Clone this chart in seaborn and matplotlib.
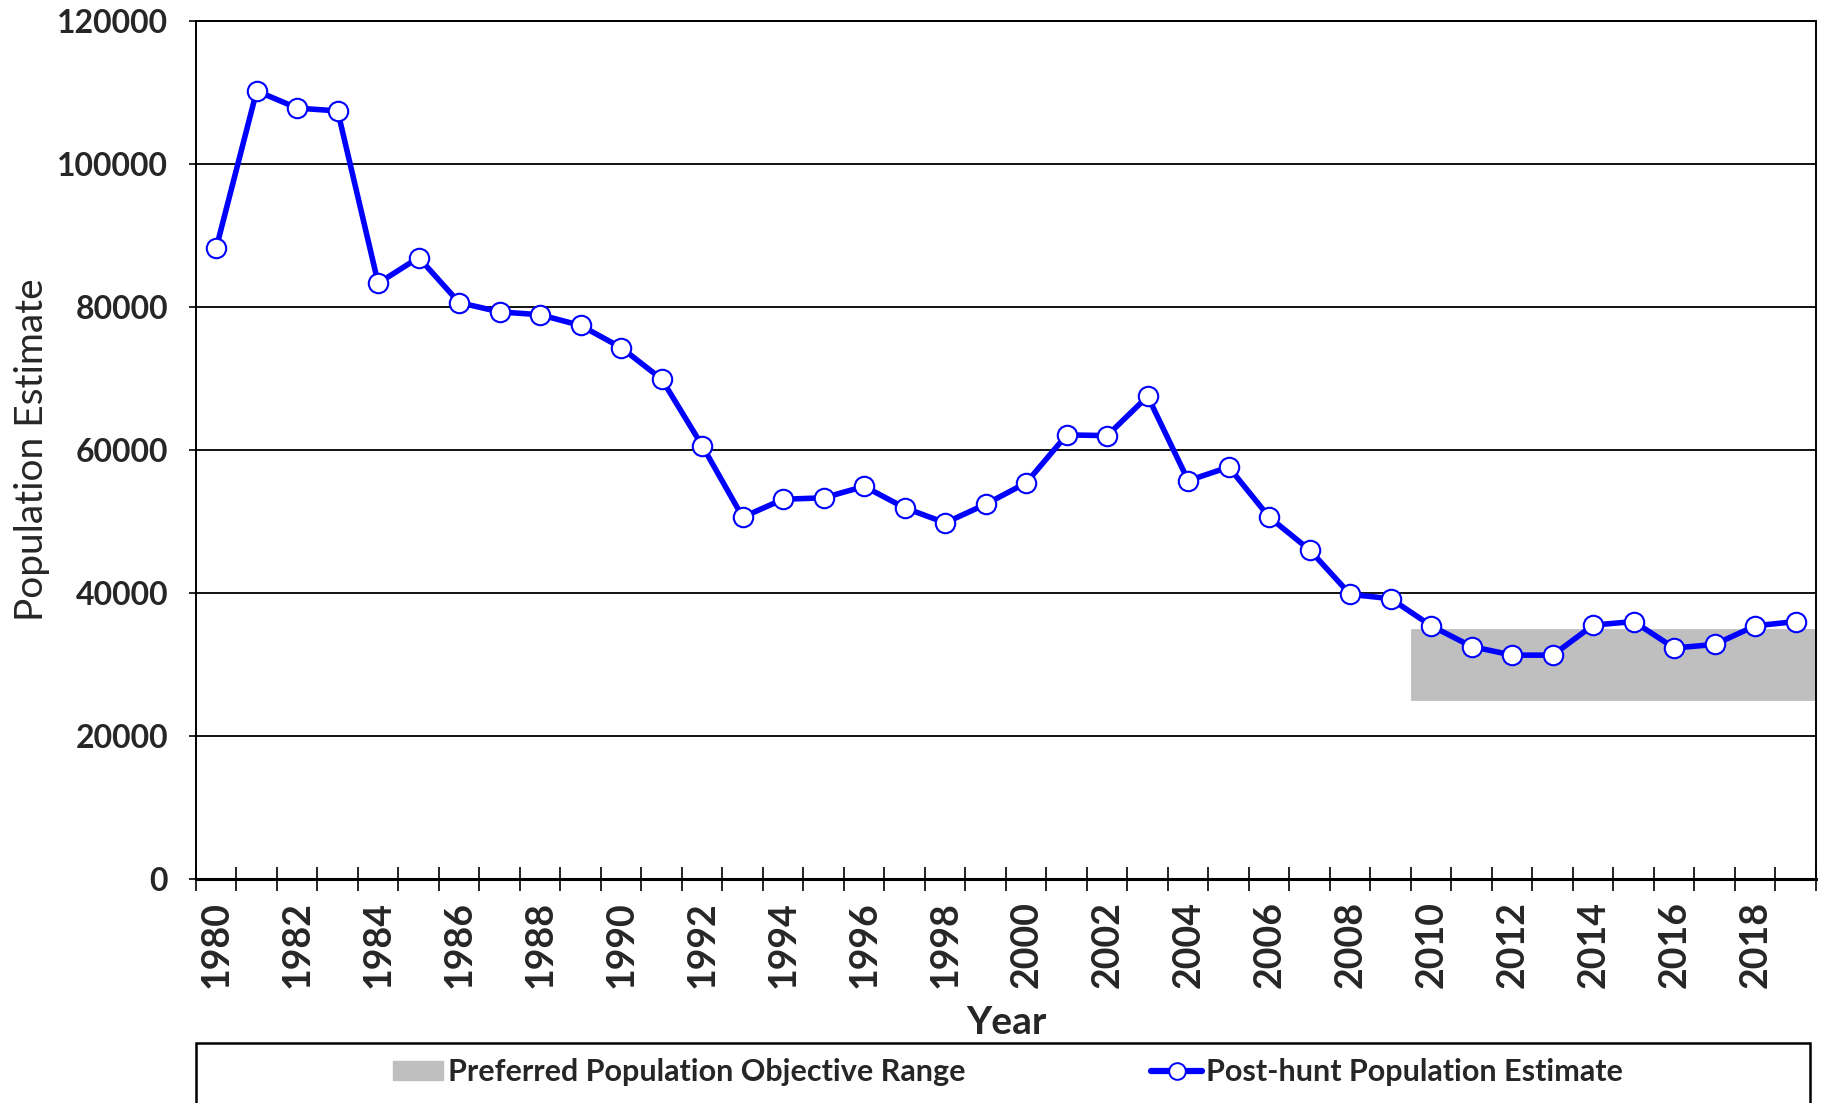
"""
Post-hunt population estimate vs. the preferred objective range.
"""

import matplotlib.pyplot as plt
import seaborn as sns
from matplotlib.lines import Line2D
from matplotlib.patches import Patch, Rectangle
from matplotlib.ticker import FixedLocator, MultipleLocator

YEARS = list(range(1980, 2020))
POPULATION = [
    88200, 110200, 107800, 107400, 83300, 86900, 80600, 79300, 78900, 77400,
    74300, 69900, 60600, 50600, 53100, 53300, 54900, 51900, 49800, 52400,
    55400, 62100, 62000, 67500, 55700, 57600, 50600, 46000, 39800, 39200,
    35400, 32500, 31300, 31300, 35500, 36000, 32300, 32800, 35400, 36000,
]

OBJECTIVE_YEARS = list(range(2010, 2020))
OBJECTIVE_LOW = 25000
OBJECTIVE_HIGH = 35000

Y_TICKS = [0, 20000, 40000, 60000, 80000, 100000, 120000]
X_LABEL_YEARS = list(range(1980, 2019, 2))

LINE_COLOR = "#0000ff"
BAND_COLOR = "#bfbfbf"


def plot_population(output_path: str = "out.png") -> None:
    sns.set_theme(style="white")
    plt.rcParams["font.family"] = ["Lato", "DejaVu Sans"]
    plt.rcParams["font.weight"] = "bold"

    fig = plt.figure(figsize=(18.31, 11.03), dpi=100)
    ax = fig.add_axes([0.107, 0.2031, 0.8848, 0.778])

    # objective range drawn as touching bars, one per year
    ax.bar(
        OBJECTIVE_YEARS,
        [OBJECTIVE_HIGH - OBJECTIVE_LOW] * len(OBJECTIVE_YEARS),
        bottom=OBJECTIVE_LOW,
        width=1.0,
        color=BAND_COLOR,
        edgecolor=BAND_COLOR,
        linewidth=0.6,
        zorder=2,
    )

    sns.lineplot(
        x=YEARS,
        y=POPULATION,
        ax=ax,
        color=LINE_COLOR,
        linewidth=4.0,
        marker="o",
        markersize=14,
        markerfacecolor="white",
        markeredgecolor=LINE_COLOR,
        markeredgewidth=1.5,
        zorder=4,
    )

    ax.set_xlim(YEARS[0] - 0.5, YEARS[-1] + 0.5)
    ax.set_ylim(Y_TICKS[0], Y_TICKS[-1])
    ax.set_yticks(Y_TICKS)
    ax.set_yticklabels([str(v) for v in Y_TICKS], fontsize=23, fontweight="bold")
    ax.tick_params(axis="y", direction="out", length=5, width=1.2, color="black", pad=15, left=True)

    # year labels sit in the middle of each category, ticks on the boundaries
    ax.xaxis.set_major_locator(FixedLocator(X_LABEL_YEARS))
    ax.set_xticklabels([str(y) for y in X_LABEL_YEARS], rotation=90, fontsize=27, fontweight="bold")
    ax.tick_params(axis="x", which="major", length=0, pad=16)
    ax.xaxis.set_minor_locator(MultipleLocator(1, offset=0.5))
    ax.tick_params(axis="x", which="minor", direction="inout", length=17, width=1.2,
                   color="black", bottom=True)

    ax.yaxis.grid(True, color="black", linewidth=1.3)
    ax.xaxis.grid(False)
    ax.set_axisbelow(True)

    for side in ["left", "right", "top"]:
        ax.spines[side].set_color("black")
        ax.spines[side].set_linewidth(1.4)
    ax.spines["bottom"].set_color("black")
    ax.spines["bottom"].set_linewidth(2.2)

    ax.set_xlabel("Year", fontsize=28, fontweight="bold", labelpad=12)
    ax.set_ylabel("Population Estimate", fontsize=28, fontweight="normal", labelpad=5)

    handles = [
        Patch(facecolor=BAND_COLOR, edgecolor=BAND_COLOR),
        Line2D([], [], color=LINE_COLOR, linewidth=4.5, marker="o", markersize=12,
               markerfacecolor="white", markeredgecolor=LINE_COLOR, markeredgewidth=1.4),
    ]
    labels = ["Preferred Population Objective Range", "Post-hunt Population Estimate"]
    fig.legend(
        handles,
        labels,
        loc="center",
        bbox_to_anchor=(0.5505, 0.028),
        ncol=2,
        frameon=False,
        prop={"size": 22, "weight": "bold"},
        handlelength=1.65,
        handleheight=0.55,
        handletextpad=0.15,
        columnspacing=6.1,
    )
    fig.add_artist(Rectangle((0.107, -0.02), 0.8815, 0.0744, transform=fig.transFigure,
                             fill=False, edgecolor="black", linewidth=1.8))

    fig.savefig(output_path, dpi=100)
    plt.close(fig)


if __name__ == "__main__":
    plot_population()
